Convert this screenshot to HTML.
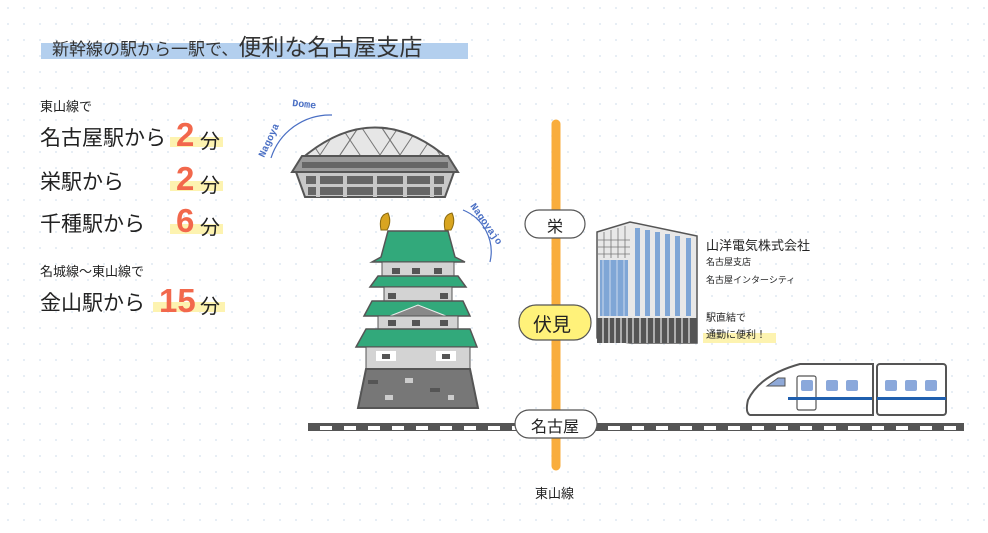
<!DOCTYPE html>
<html><head><meta charset="utf-8"><style>
body{margin:0;width:988px;height:533px;overflow:hidden;background:#fff;font-family:"Liberation Sans","Noto Sans CJK JP",sans-serif;}
svg{position:absolute;left:0;top:0}
.t{position:absolute;white-space:nowrap;color:#222}
</style></head><body>
<svg width="988" height="533" viewBox="0 0 988 533">
<defs>
<pattern id="dots" width="16" height="16" patternUnits="userSpaceOnUse"><circle cx="8" cy="8" r="0.9" fill="#d6e2ee"/></pattern>
<pattern id="trk" width="24" height="8" patternUnits="userSpaceOnUse" x="308"><rect width="24" height="8" fill="#555"/><rect x="12" y="2" width="12" height="4" fill="#fff"/></pattern>
<clipPath id="dc"><path d="M300 160 Q375 95 450 160 Z"/></clipPath>
</defs>
<rect width="988" height="533" fill="url(#dots)"/>
<rect x="41" y="43" width="427" height="16" fill="#b3cfee"/>
<rect x="170" y="137" width="53" height="10" fill="#fdf3b0"/>
<rect x="170" y="181" width="53" height="10" fill="#fdf3b0"/>
<rect x="170" y="224" width="53" height="10" fill="#fdf3b0"/>
<rect x="153" y="302" width="72" height="10" fill="#fdf3b0"/>
<rect x="703" y="333" width="73" height="10" fill="#fdf3b0"/>
<rect x="308" y="423" width="656" height="8" fill="url(#trk)"/>
<line x1="556" y1="124" x2="556" y2="466" stroke="#f9ad3c" stroke-width="9" stroke-linecap="round"/>
<rect x="525" y="210" width="60" height="28" rx="14" fill="#fff" stroke="#555" stroke-width="1.2"/>
<rect x="519" y="305" width="72" height="35" rx="17" fill="#fff27a" stroke="#555" stroke-width="1.2"/>
<rect x="515" y="410" width="82" height="28" rx="14" fill="#fff" stroke="#555" stroke-width="1.2"/>
<path d="M271 158 A62 62 0 0 1 332 115" fill="none" stroke="#4a6fc4" stroke-width="1.2"/>
<text x="264" y="158" font-family="Liberation Mono,monospace" font-size="10" font-weight="bold" fill="#4a6fc4" transform="rotate(-65 264 158)">Nagoya</text>
<text x="292" y="106" font-family="Liberation Mono,monospace" font-size="10" font-weight="bold" fill="#4a6fc4" transform="rotate(6 292 106)">Dome</text>
<path d="M300 160 Q375 95 450 160 Z" fill="#e6e6e6"/>
<g clip-path="url(#dc)" stroke="#777" stroke-width="1" fill="none">
<path d="M290 170 L330 110 L370 170 L410 110 L450 170 M310 170 L350 110 L390 170 L430 110 L470 170 M270 170 L310 110 M330 170 L370 110 L410 170 M450 110 L490 170"/>
<path d="M290 110 L330 170 L370 110 L410 170 L450 110"/>
</g>
<path d="M300 160 Q375 95 450 160" fill="none" stroke="#555" stroke-width="2"/>
<path d="M292 172 L302 156 L448 156 L458 172 Z" fill="#9a9a9a" stroke="#555" stroke-width="2"/>
<rect x="302" y="162" width="146" height="6" fill="#666"/>
<path d="M296 172 L454 172 L445 197 L305 197 Z" fill="#c8c8c8" stroke="#555" stroke-width="2"/>
<rect x="306" y="176" width="138" height="8" fill="#666"/>
<rect x="308" y="187" width="134" height="8" fill="#666"/>
<path d="M318 174 V197 M345 174 V197 M375 174 V197 M405 174 V197 M432 174 V197" stroke="#c8c8c8" stroke-width="4"/>
<path d="M463 210 A45 45 0 0 1 490 262" fill="none" stroke="#4a6fc4" stroke-width="1.2"/>
<text x="470" y="206" font-family="Liberation Mono,monospace" font-size="10" font-weight="bold" fill="#4a6fc4" transform="rotate(55 470 206)">Nagoyajo</text>
<path d="M381 230 Q378 215 388 213 Q392 222 387 230 Z M445 230 Q442 215 452 213 Q456 222 451 230 Z" fill="#d9a520" stroke="#8a6a10"/>
<path d="M388 231 L448 231 L455 257 L465 262 L372 262 L381 257 Z" fill="#32a97b" stroke="#555" stroke-width="1.5"/>
<rect x="382" y="262" width="72" height="14" fill="#d3d3d3" stroke="#555"/>
<path d="M370 287 L378 276 L458 276 L466 287 Z" fill="#32a97b" stroke="#555" stroke-width="1.5"/>
<rect x="384" y="287" width="68" height="14" fill="#d3d3d3" stroke="#555"/>
<path d="M364 316 L372 301 L463 301 L470 316 Z" fill="#32a97b" stroke="#555" stroke-width="1.5"/>
<path d="M390 316 L418 305 L446 316 Z" fill="#888" stroke="#eee"/>
<rect x="378" y="316" width="80" height="13" fill="#d3d3d3" stroke="#555"/>
<path d="M356 347 L366 329 L470 329 L477 347 Z" fill="#32a97b" stroke="#555" stroke-width="1.5"/>
<rect x="366" y="347" width="104" height="22" fill="#d3d3d3" stroke="#555"/>
<rect x="376" y="351" width="20" height="10" fill="#fff"/><rect x="436" y="351" width="20" height="10" fill="#fff"/>
<path d="M366 369 L470 369 L478 408 L358 408 Z" fill="#777" stroke="#555" stroke-width="2"/>
<g fill="#555"><rect x="392" y="268" width="8" height="6"/><rect x="412" y="268" width="8" height="6"/><rect x="434" y="268" width="8" height="6"/><rect x="388" y="293" width="8" height="6"/><rect x="440" y="293" width="8" height="6"/><rect x="388" y="320" width="8" height="6"/><rect x="412" y="320" width="8" height="6"/><rect x="440" y="320" width="8" height="6"/><rect x="382" y="354" width="8" height="5"/><rect x="442" y="354" width="8" height="5"/><rect x="368" y="380" width="10" height="4"/><rect x="430" y="388" width="10" height="4"/></g>
<g fill="#ccc"><rect x="405" y="378" width="8" height="5"/><rect x="385" y="395" width="8" height="5"/><rect x="448" y="395" width="6" height="5"/></g>
<path d="M597 232 L630 222 L697 236 L697 343 L630 343 L597 338 Z" fill="#e8e8e8" stroke="#555" stroke-width="1.5"/>
<g fill="#7fa6d6"><rect x="635" y="228" width="5" height="88"/><rect x="645" y="230" width="5" height="86"/><rect x="655" y="232" width="5" height="84"/><rect x="665" y="234" width="5" height="82"/><rect x="675" y="236" width="5" height="80"/><rect x="686" y="238" width="5" height="78"/><rect x="600" y="260" width="28" height="56"/></g>
<g stroke="#fff" stroke-width="1" opacity=".6"><line x1="603" y1="260" x2="603" y2="316"/><line x1="610" y1="260" x2="610" y2="316"/><line x1="617" y1="260" x2="617" y2="316"/><line x1="624" y1="260" x2="624" y2="316"/></g>
<g stroke="#777" stroke-width="0.8" fill="none"><path d="M598 240 H630 M598 247 H630 M598 254 H630 M604 232 V258 M611 230 V258 M618 228 V258 M625 226 V258"/></g>
<rect x="597" y="318" width="100" height="25" fill="#555"/>
<path d="M603 318 V343 M609 318 V343 M615 318 V343 M621 318 V343 M627 318 V343 M633 318 V343 M640 318 V343 M647 318 V343 M654 318 V343 M661 318 V343 M668 318 V343 M675 318 V343 M682 318 V343 M689 318 V343" stroke="#ccc" stroke-width="1.5"/>
<path d="M873 364 L873 415 L750 415 Q745 413 748 400 Q760 375 800 364 Z" fill="#fff" stroke="#555" stroke-width="2"/>
<rect x="877" y="364" width="69" height="51" rx="3" fill="#fff" stroke="#555" stroke-width="2"/>
<path d="M767 386 L778 378 L785 378 L785 386 Z" fill="#8fa9d8" stroke="#555"/>
<rect x="797" y="376" width="19" height="34" rx="2" fill="none" stroke="#555" stroke-width="1.2"/>
<g fill="#8aa8db"><rect x="801" y="380" width="12" height="11" rx="2"/><rect x="826" y="380" width="12" height="11" rx="2"/><rect x="846" y="380" width="12" height="11" rx="2"/><rect x="885" y="380" width="12" height="11" rx="2"/><rect x="905" y="380" width="12" height="11" rx="2"/><rect x="925" y="380" width="12" height="11" rx="2"/></g>
<rect x="788" y="397" width="84" height="3" fill="#1f5fae"/><rect x="877" y="397" width="69" height="3" fill="#1f5fae"/>
</svg>
<div class="t" style="left:52px;top:28px;font-size:17px;color:#333">新幹線の駅から一駅で、<span style="font-size:23px">便利な名古屋支店</span></div>
<div class="t" style="left:40px;top:96px;font-size:13px">東山線で</div>
<div class="t" style="left:40px;top:122px;font-size:21px">名古屋駅から</div>
<div class="t" style="left:40px;top:166px;font-size:21px">栄駅から</div>
<div class="t" style="left:40px;top:208px;font-size:21px">千種駅から</div>
<div class="t" style="left:40px;top:261px;font-size:13px">名城線～東山線で</div>
<div class="t" style="left:40px;top:287px;font-size:21px">金山駅から</div>
<div class="t" style="left:176px;top:116px;font-size:33px;font-weight:bold;color:#f2684c">2</div>
<div class="t" style="left:176px;top:160px;font-size:33px;font-weight:bold;color:#f2684c">2</div>
<div class="t" style="left:176px;top:202px;font-size:33px;font-weight:bold;color:#f2684c">6</div>
<div class="t" style="left:159px;top:282px;font-size:33px;font-weight:bold;color:#f2684c">15</div>
<div class="t" style="left:200px;top:125px;font-size:20px">分</div>
<div class="t" style="left:200px;top:169px;font-size:20px">分</div>
<div class="t" style="left:200px;top:211px;font-size:20px">分</div>
<div class="t" style="left:200px;top:290px;font-size:20px">分</div>
<div class="t" style="left:547px;top:213px;font-size:16px">栄</div>
<div class="t" style="left:533px;top:310px;font-size:19px">伏見</div>
<div class="t" style="left:531px;top:413px;font-size:16px">名古屋</div>
<div class="t" style="left:535px;top:483px;font-size:13px">東山線</div>
<div class="t" style="left:706px;top:235px;font-size:13px">山洋電気株式会社</div>
<div class="t" style="left:706px;top:255px;font-size:9px">名古屋支店</div>
<div class="t" style="left:706px;top:273px;font-size:9px">名古屋インターシティ</div>
<div class="t" style="left:706px;top:309px;font-size:10px">駅直結で</div>
<div class="t" style="left:706px;top:326px;font-size:10px">通勤に便利！</div>
</body></html>
